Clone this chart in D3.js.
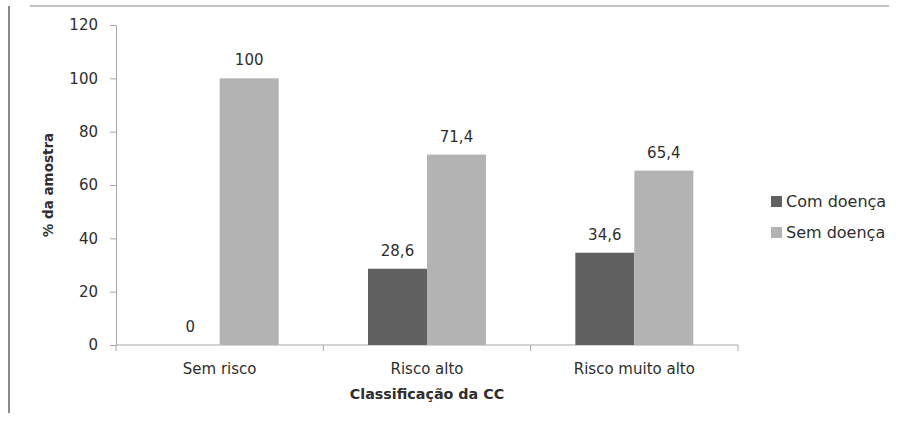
<!DOCTYPE html>
<html>
<head>
<meta charset="utf-8">
<script src="https://cdn.jsdelivr.net/npm/d3@7/dist/d3.min.js"></script>
<style>
  html, body { margin: 0; padding: 0; background: #fff; }
  svg { display: block; }
  text { font-family: "DejaVu Sans", sans-serif; fill: #2e2e2e; }
</style>
</head>
<body>
<svg id="chart" width="898" height="421"></svg>
<script>
// Classificação da CC (circunferência da cintura) vs. presença de doença
const categories = ["Sem risco", "Risco alto", "Risco muito alto"];
const seriesNames = ["Com doença", "Sem doença"];
const comDoenca = [0, 28.6, 34.6];
const semDoenca = [100, 71.4, 65.4];
const yTicks = [0, 20, 40, 60, 80, 100, 120];
const seriesColors = ["#616161", "#b3b3b3"];

const svg = d3.select("#chart");
const plot = { left: 116, right: 738, top: 25, bottom: 345 };

// frame lines around the chart area
svg.append("line").attr("x1", 30).attr("x2", 889).attr("y1", 6).attr("y2", 6)
  .attr("stroke", "#ababab").attr("stroke-width", 1.5);
svg.append("line").attr("x1", 9).attr("x2", 9).attr("y1", 6).attr("y2", 413)
  .attr("stroke", "#8a8a8a").attr("stroke-width", 2);

const x0 = d3.scaleBand().domain(categories).range([plot.left, plot.right]).paddingInner(0).paddingOuter(0);
const x1 = d3.scaleBand().domain(seriesNames).range([x0.bandwidth() / 2 - 59, x0.bandwidth() / 2 + 59]).padding(0);
const y = d3.scaleLinear().domain([0, 120]).range([plot.bottom, plot.top]);

// y axis
const yAxis = d3.axisLeft(y).tickValues(yTicks).tickSize(6).tickPadding(12).tickSizeOuter(0);
const gy = svg.append("g").attr("transform", `translate(${plot.left},0)`).call(yAxis);
gy.select(".domain").attr("stroke", "#a6a6a6");
gy.selectAll(".tick line").attr("stroke", "#a6a6a6");
gy.selectAll(".tick text").attr("font-size", 15).attr("fill", "#2e2e2e")
  .attr("font-family", "DejaVu Sans, sans-serif");

// x axis with boundary ticks between categories
const gx = svg.append("g").attr("transform", `translate(0,${plot.bottom})`);
gx.append("line").attr("x1", plot.left).attr("x2", plot.right).attr("stroke", "#a6a6a6");
const bounds = categories.map(c => x0(c)).concat([plot.right]);
gx.selectAll("line.tk").data(bounds).join("line").attr("class", "tk")
  .attr("x1", d => d).attr("x2", d => d).attr("y1", 0).attr("y2", 6).attr("stroke", "#a6a6a6");
gx.selectAll("text.cat").data(categories).join("text").attr("class", "cat")
  .attr("x", d => x0(d) + x0.bandwidth() / 2).attr("y", 29)
  .attr("text-anchor", "middle").attr("font-size", 15).text(d => d);

// bars
const rows = categories.map((c, i) => ({ cat: c, values: [comDoenca[i], semDoenca[i]] }));
const groups = svg.selectAll("g.grp").data(rows).join("g").attr("class", "grp")
  .attr("transform", d => `translate(${x0(d.cat)},0)`);
groups.selectAll("rect").data(d => d.values.map((v, k) => ({ key: seriesNames[k], v, k })))
  .join("rect")
  .attr("x", d => x1(d.key)).attr("width", x1.bandwidth())
  .attr("y", d => y(d.v)).attr("height", d => y(0) - y(d.v))
  .attr("fill", d => seriesColors[d.k]);
groups.selectAll("text.val").data(d => d.values.map((v, k) => ({ key: seriesNames[k], v, k })))
  .join("text").attr("class", "val")
  .attr("x", d => x1(d.key) + x1.bandwidth() / 2).attr("y", d => y(d.v) - 13)
  .attr("text-anchor", "middle").attr("font-size", 15)
  .text(d => String(d.v).replace(".", ","));

// axis titles
svg.append("text").attr("transform", `translate(53,185) rotate(-90)`)
  .attr("text-anchor", "middle").attr("font-size", 13.5).attr("font-weight", "bold")
  .attr("fill", "#111").text("% da amostra");
svg.append("text").attr("x", 427).attr("y", 399).attr("text-anchor", "middle")
  .attr("font-size", 14.3).attr("font-weight", "bold").attr("fill", "#111")
  .text("Classificação da CC");

// legend
const legend = svg.selectAll("g.leg").data(seriesNames).join("g").attr("class", "leg")
  .attr("transform", (d, i) => `translate(771,${196 + i * 31})`);
legend.append("rect").attr("width", 11).attr("height", 11).attr("fill", (d, i) => seriesColors[i]);
legend.append("text").attr("x", 15).attr("y", 10.5).attr("font-size", 16).text(d => d);
</script>
</body>
</html>
